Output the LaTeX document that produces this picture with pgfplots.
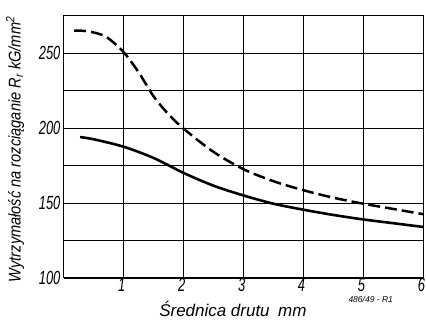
\documentclass[border=0pt]{standalone}
\usepackage{fontspec}
\setmainfont{Liberation Sans}
\newfontfamily\tickfont[FakeStretch=0.68]{Liberation Sans}
\newfontfamily\ylabfont[FakeStretch=0.86]{Liberation Sans}
\usepackage{pgfplots}
\pgfplotsset{compat=1.18}
\begin{document}
\begin{tikzpicture}
\begin{axis}[
  scale only axis,
  width=360pt, height=262.6pt,
  xmin=0, xmax=6, ymin=100, ymax=275,
  xtick={1,2,3,4,5,6},
  ytick={100,125,150,175,200,225,250,275},
  yticklabels={100,,150,,200,,250,},
  grid=major,
  grid style={black, line width=0.7pt},
  axis line style={black, line width=1.1pt},
  tick style={draw=none},
  /pgf/number format/assume math mode=true,
  ticklabel style={font=\tickfont\itshape\fontsize{19}{19}\selectfont},
  xticklabel style={anchor=north, yshift=1pt, xshift=-2pt, inner sep=1pt},
  yticklabel style={xshift=0pt},
  xlabel={\itshape Średnica drutu\enspace mm},
  xlabel style={font=\fontsize{17}{17}\selectfont, at={(axis description cs:0.47,-0.12)}, anchor=center},
  ylabel={\itshape Wytrzymałość na rozciąganie R\textsubscript{r} kG/mm\textsuperscript{2}},
  ylabel style={font=\ylabfont\fontsize{17}{17}\selectfont, at={(axis description cs:-0.136,0.49)}, anchor=center},
  clip=false,
]
\addplot[black, line width=2.5pt, dash pattern=on 12pt off 5pt, smooth] coordinates {
(0.17,265)(0.4,264.6)(0.7,261)(1.0,250.5)(1.25,237)(1.5,221)(1.75,209)(2.0,199.5)(2.5,184)(3.0,172.5)(3.5,164.5)(4.0,158.5)(4.5,153.5)(5.0,149.5)(5.5,146)(6.0,142.5)
};
\addplot[black, line width=2.6pt, smooth] coordinates {
(0.27,194)(0.5,192.5)(1.0,187.5)(1.5,180)(2.0,170)(2.5,161.5)(3.0,155)(3.5,149.5)(4.0,145.5)(4.5,142)(5.0,139)(5.5,136.5)(6.0,134)
};
\node[font=\itshape\fontsize{8.5}{8.5}\selectfont, inner sep=0.5pt] at (axis cs:5.12,85.3) {486/49 - R1};
\end{axis}
\path[use as bounding box] (-64pt,-41.7pt) rectangle (362pt,278.3pt);
\end{tikzpicture}
\end{document}
